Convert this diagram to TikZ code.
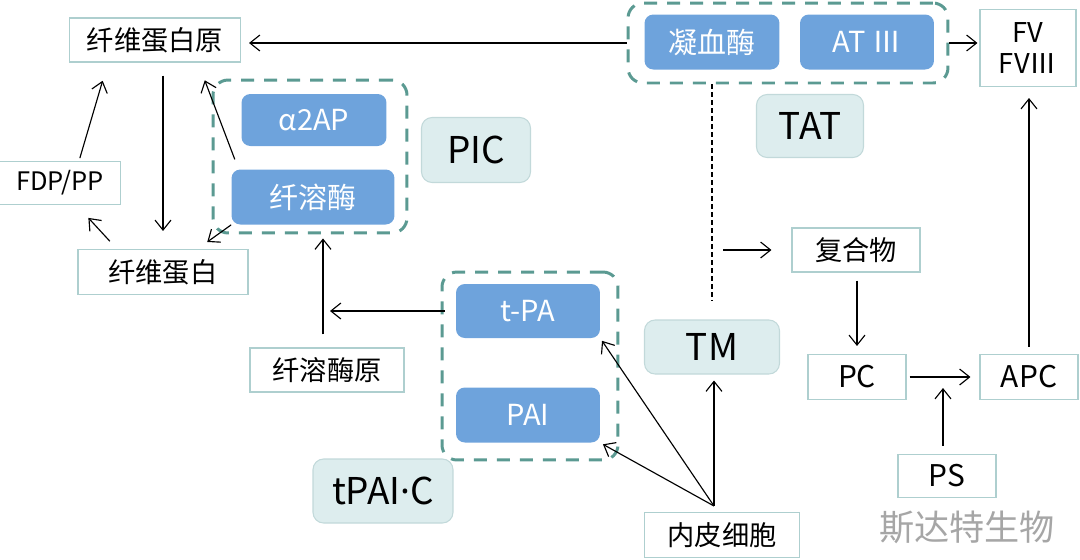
\documentclass[tikz,border=0pt]{standalone}
\usepackage{fontspec}
\newfontfamily\cjk{Noto Sans CJK SC}
\newfontfamily\latin{Noto Sans}
\usepackage{tikz}
\usetikzlibrary{arrows.meta}
\definecolor{boxline}{HTML}{AECFCF}
\definecolor{enzblue}{HTML}{6EA3DC}
\definecolor{tagfill}{HTML}{DDEDEE}
\definecolor{tagline}{HTML}{C2D9DA}
\definecolor{grpline}{HTML}{5B9A92}
\definecolor{wmark}{HTML}{A6A6A6}
\tikzset{
    plain/.style={draw=boxline, line width=0.6pt, fill=white, inner sep=0pt, font=\cjk\fontsize{15.5}{18}\selectfont},
    enzyme/.style={fill=enzblue, rounded corners=5pt, text=white, inner sep=0pt, font=\cjk\fontsize{16.5}{19}\selectfont},
    tag/.style={draw=tagline, fill=tagfill, rounded corners=6pt, line width=0.6pt, inner sep=0pt, font=\cjk\fontsize{21}{24}\selectfont},
    group/.style={draw=grpline, line width=1.7pt, dash pattern=on 0.26cm off 0.2cm, rounded corners=0.3cm, inner sep=0pt},
    link/.style={-{Straight Barb[length=2mm,width=3.2mm]}, line width=0.65pt}
}

\begin{document}
\begin{tikzpicture}[x=0.02cm, y=-0.02cm]
    	\useasboundingbox (0,0) rectangle (1080,559);
    	% Groups:
    	\node[group, minimum width=3.88cm, minimum height=3.06cm](grpP) at (310, 156.5){};
    	\node[group, minimum width=3.52cm, minimum height=3.76cm](grpA) at (530, 366){};
    	\node[group, minimum width=6.4cm, minimum height=1.6cm](grpT) at (788, 43){};
    	% Boxes:
    	\node[plain, minimum width=3.42cm, minimum height=0.88cm](fbgn) at (155, 40){纤维蛋白原};
    	\node[plain, minimum width=2.42cm, minimum height=0.86cm, font=\cjk\fontsize{14.5}{17}\selectfont](fdp) at (60, 183){FDP/PP};
    	\node[plain, minimum width=3.4cm, minimum height=0.9cm](fbn) at (163, 272){纤维蛋白};
    	\node[plain, minimum width=3.08cm, minimum height=0.88cm](plg) at (327, 370){纤溶酶原};
    	\node[plain, minimum width=1.92cm, minimum height=1.54cm, align=center, font=\cjk\fontsize{15.5}{17.5}\selectfont](fv) at (1028, 48){FV\\FVⅢ};
    	\node[plain, minimum width=2.56cm, minimum height=0.88cm](cpx) at (856, 250){复合物};
    	\node[plain, minimum width=1.96cm, minimum height=0.9cm, font=\cjk\fontsize{17}{20}\selectfont](pc) at (857, 377){PC};
    	\node[plain, minimum width=1.96cm, minimum height=0.9cm, font=\cjk\fontsize{17}{20}\selectfont](apc) at (1029, 377){APC};
    	\node[plain, minimum width=1.96cm, minimum height=0.86cm, font=\cjk\fontsize{17}{20}\selectfont](ps) at (947, 476){PS};
    	\node[plain, minimum width=3.1cm, minimum height=0.9cm](endo) at (722, 535){内皮细胞};
    	% Enzymes:
    	\node[enzyme, minimum width=2.9cm, minimum height=1.04cm](a2ap) at (314, 120){α2AP};
    	\node[enzyme, minimum width=3.26cm, minimum height=1.1cm](plm) at (313, 197){纤溶酶};
    	\node[enzyme, minimum width=2.88cm, minimum height=1.08cm](tpa) at (528, 311){t-PA};
    	\node[enzyme, minimum width=2.88cm, minimum height=1.1cm](pai) at (528, 415){PAI};
    	\node[enzyme, minimum width=2.7cm, minimum height=1.1cm](thr) at (712, 42){凝血酶};
    	\node[enzyme, minimum width=2.68cm, minimum height=1.1cm](at3) at (867, 42){AT Ⅲ};
    	% Tags:
    	\node[tag, minimum width=2.18cm, minimum height=1.3cm](pic) at (476, 150){PIC};
    	\node[tag, minimum width=2.8cm, minimum height=1.28cm](tpaic) at (383, 491){tPAI{\latin ·}C};
    	\node[tag, minimum width=2.14cm, minimum height=1.26cm](tat) at (810, 126){TAT};
    	\node[tag, minimum width=2.7cm, minimum height=1.08cm](tm) at (712, 347){TM};
    	\node[text=wmark, font=\cjk\fontsize{20}{24}\selectfont](wm) at (967, 527){斯达特生物};
    	\coordinate (ec) at ([xshift=-0.16cm, yshift=0.12cm]endo.north);
    	% Arrows:
    	\draw[link, shorten >=0.16cm] (grpT.west) -- (grpT.west -| fbgn.east);
    	\draw[link, shorten <=0.26cm, shorten >=0.36cm] (fbn.north |- fbgn.south) -- (fbn.north);
    	\draw[link, shorten <=0.06cm, shorten >=0.38cm] ([xshift=0.38cm]fdp.north) -- ([xshift=-0.94cm]fbgn.south);
    	\draw[link, shorten <=0.21cm, shorten >=0.35cm] ([xshift=-0.92cm]fbn.north) -- ([xshift=0.33cm]fdp.south);
    	\draw[link, shorten <=0.21cm, shorten >=0.38cm] ([xshift=-1.49cm]plm.north) -- ([xshift=0.86cm]fbgn.south);
    	\draw[link, shorten >=0.24cm] (plm.south west) -- ([xshift=0.69cm]fbn.north);
    	\draw[link, shorten <=0.26cm, shorten >=0.08cm] ([xshift=-0.08cm]plg.north) -- ([xshift=-0.08cm]plg.north |- grpP.south);
    	\draw[link, shorten <=0.22cm, shorten >=0.06cm] (tpa.west) -- (tpa.west -| plg.north);
    	\draw[link, shorten >=0.04cm] (grpT.east) -- (grpT.east -| fv.west);
    	\draw[dash pattern=on 0.1cm off 0.06cm, line width=0.6pt, shorten >=0.36cm] (tm.north |- grpT.south) -- (tm.north);
    	\draw[link, shorten <=0.22cm, shorten >=0.4cm] (cpx.west -| tm.north) -- (cpx.west);
    	\draw[link, shorten <=0.16cm, shorten >=0.16cm] (pc.north |- cpx.south) -- (pc.north);
    	\draw[link, shorten <=0.06cm, shorten >=0.18cm] (pc.east) -- (apc.west);
    	\draw[link, shorten <=0.16cm, shorten >=0.22cm] ([xshift=-0.08cm]ps.north) -- ([xshift=-0.08cm]ps.north |- apc.west);
    	\draw[link, shorten <=0.14cm, shorten >=0.22cm] (apc.north) -- (apc.north |- fv.south);
    	\draw[link, shorten >=0.12cm] (ec) -- (ec |- tm.south);
    	\draw[link, shorten >=0.06cm] (ec) -- (tpa.south east);
    	\draw[link, shorten >=0.06cm] (ec) -- (pai.south east);
    \end{tikzpicture}
\end{document}
